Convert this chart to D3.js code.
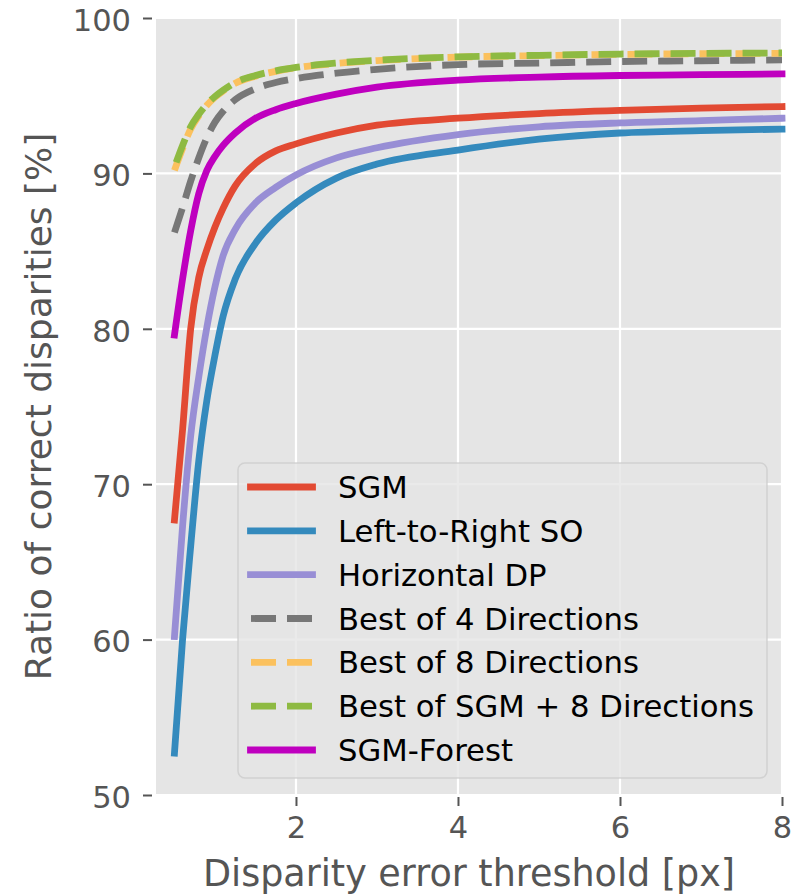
<!DOCTYPE html>
<html>
<head>
<meta charset="utf-8">
<script src="https://cdn.jsdelivr.net/npm/d3@7"></script>
<style>
  body { margin: 0; background: #fff; }
  svg { display: block; font-family: "DejaVu Sans", sans-serif; }
</style>
</head>
<body>
<svg width="800" height="895"></svg>
<script>
// Thresholds in px
const thresholds = [0.5, 0.6, 0.7, 0.8, 0.9, 1.0, 1.1, 1.25, 1.5, 1.75, 2, 2.5, 3, 4, 5, 6, 7, 8];

// Ratio of correct disparities [%] per method
const sgm = [67.7, 73.5, 80.0, 83.3, 85.1, 86.55, 87.75, 89.2, 90.64, 91.45, 91.9, 92.6, 93.1, 93.55, 93.85, 94.05, 94.2, 94.3];
const leftToRight = [52.7, 60.0, 66.0, 71.5, 75.4, 78.3, 80.8, 83.2, 85.5, 87.0, 88.1, 89.7, 90.6, 91.5, 92.2, 92.6, 92.75, 92.85];
const horizontalDP = [60.2, 67.3, 73.1, 76.9, 80.1, 82.7, 84.7, 86.4, 88.1, 89.1, 89.9, 91.0, 91.65, 92.5, 93.0, 93.25, 93.4, 93.55];
const best4 = [86.2, 87.8, 89.5, 91.0, 92.3, 93.3, 94.0, 94.75, 95.45, 95.85, 96.1, 96.45, 96.7, 97.0, 97.1, 97.2, 97.25, 97.3];
const best8 = [90.2, 91.6, 92.85, 93.7, 94.38, 94.9, 95.3, 95.8, 96.26, 96.57, 96.8, 97.08, 97.26, 97.48, 97.58, 97.66, 97.7, 97.73];
const bestSGM8 = [90.4, 91.8, 93.0, 93.8, 94.45, 94.95, 95.35, 95.85, 96.3, 96.6, 96.82, 97.1, 97.28, 97.5, 97.6, 97.68, 97.72, 97.75];
const sgmForest = [79.6, 83.2, 86.3, 88.7, 90.2, 91.1, 91.8, 92.6, 93.55, 94.1, 94.5, 95.1, 95.55, 96.0, 96.2, 96.3, 96.35, 96.4];

const xTicks = [2, 4, 6, 8];
const yTicks = [50, 60, 70, 80, 90, 100];

const series = [
  { name: "SGM", values: sgm, color: "#E24A33", dashed: false },
  { name: "Left-to-Right SO", values: leftToRight, color: "#348ABD", dashed: false },
  { name: "Horizontal DP", values: horizontalDP, color: "#988ED5", dashed: false },
  { name: "Best of 4 Directions", values: best4, color: "#777777", dashed: true },
  { name: "Best of 8 Directions", values: best8, color: "#FBC15E", dashed: true },
  { name: "Best of SGM + 8 Directions", values: bestSGM8, color: "#8EBA42", dashed: true, offset: -5 },
  { name: "SGM-Forest", values: sgmForest, color: "#BF00BF", dashed: false }
];

// plot area
const plotL = 156, plotR = 782, plotT = 18, plotB = 795;
const lw = 6.8;

const x = d3.scaleLinear().domain([0.272, 8]).range([plotL, plotR]);
const y = d3.scaleLinear().domain([50, 100]).range([plotB, plotT]);

const svg = d3.select("svg");

svg.append("rect")
  .attr("x", plotL).attr("y", plotT)
  .attr("width", plotR - plotL).attr("height", plotB - plotT)
  .attr("fill", "#E5E5E5");

// grid
svg.append("g").selectAll("line").data(xTicks).join("line")
  .attr("x1", d => x(d)).attr("x2", d => x(d))
  .attr("y1", plotT).attr("y2", plotB)
  .attr("stroke", "#fff").attr("stroke-width", 2.2);
svg.append("g").selectAll("line").data(yTicks).join("line")
  .attr("x1", plotL).attr("x2", plotR)
  .attr("y1", d => y(d)).attr("y2", d => y(d))
  .attr("stroke", "#fff").attr("stroke-width", 2.2);

// axes
const xAxis = d3.axisBottom(x).tickValues(xTicks).tickSize(9).tickPadding(10).tickFormat(d3.format("d"));
const gx = svg.append("g").attr("transform", `translate(0,${plotB + 2})`).call(xAxis);
gx.select(".domain").remove();
gx.selectAll(".tick line").attr("stroke", "#555").attr("stroke-width", 2);
gx.selectAll(".tick text").attr("fill", "#555").attr("font-size", 30.5).attr("font-family", "DejaVu Sans");

const yAxis = d3.axisLeft(y).tickValues(yTicks).tickSize(9).tickPadding(12).tickFormat(d3.format("d"));
const gy = svg.append("g").attr("transform", `translate(${plotL - 4},0)`).call(yAxis);
gy.select(".domain").remove();
gy.selectAll(".tick line").attr("stroke", "#555").attr("stroke-width", 2);
gy.selectAll(".tick text").attr("fill", "#555").attr("font-size", 30.5).attr("font-family", "DejaVu Sans").attr("dy", "0.4em");

// axis labels
svg.append("text")
  .attr("x", (plotL + plotR) / 2).attr("y", 886)
  .attr("text-anchor", "middle")
  .attr("fill", "#555").attr("font-size", 36.5)
  .text("Disparity error threshold [px]");
svg.append("text")
  .attr("transform", `translate(51,${(plotT + plotB) / 2}) rotate(-90)`)
  .attr("text-anchor", "middle")
  .attr("fill", "#555").attr("font-size", 36)
  .text("Ratio of correct disparities [%]");

// lines
const line = d3.line()
  .x((d, i) => x(thresholds[i]))
  .y(d => y(d))
  .curve(d3.curveMonotoneX);

svg.append("g").selectAll("path").data(series).join("path")
  .attr("d", d => line(d.values))
  .attr("fill", "none")
  .attr("stroke", d => d.color)
  .attr("stroke-width", lw)
  .attr("stroke-linejoin", "round")
  .attr("stroke-linecap", d => d.dashed ? "butt" : "square")
  .attr("stroke-dasharray", d => d.dashed ? "25,11" : null)
  .attr("stroke-dashoffset", d => d.offset || 0);

// legend
const lg = svg.append("g");
lg.append("rect")
  .attr("x", 238).attr("y", 463)
  .attr("width", 529).attr("height", 315)
  .attr("rx", 7)
  .attr("fill", "#E5E5E5").attr("fill-opacity", 0.8)
  .attr("stroke", "#CCCCCC").attr("stroke-opacity", 0.8).attr("stroke-width", 1.5);

const rowY = d3.scaleLinear().domain([0, series.length - 1]).range([487, 750]);
const item = lg.selectAll("g.item").data(series).join("g")
  .attr("class", "item")
  .attr("transform", (d, i) => `translate(0,${rowY(i)})`);
item.append("line")
  .attr("x1", d => d.dashed ? 251 : 250.5)
  .attr("x2", d => d.dashed ? 312 : 312.5)
  .attr("stroke", d => d.color)
  .attr("stroke-width", lw)
  .attr("stroke-linecap", d => d.dashed ? "butt" : "square")
  .attr("stroke-dasharray", d => d.dashed ? "25,11" : null);
item.append("text")
  .attr("x", 338).attr("dy", "0.36em")
  .attr("font-size", 30.7).attr("fill", "#000")
  .text(d => d.name);
</script>
</body>
</html>
